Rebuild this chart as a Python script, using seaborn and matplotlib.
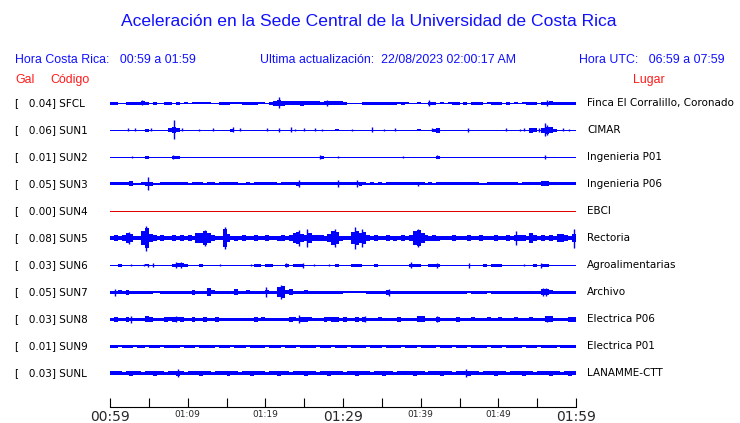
"""
plot.py

Acceleration traces for the UCR central campus stations (one hour window).
"""

import matplotlib
matplotlib.use("Agg")

import matplotlib.pyplot as plt
import numpy as np
import seaborn as sns


# ==========================================================
# Data
# ==========================================================

CODES = ["SFCL", "SUN1", "SUN2", "SUN3", "SUN4", "SUN5",
         "SUN6", "SUN7", "SUN8", "SUN9", "SUNL"]

PLACES = [
    "Finca El Corralillo, Coronado", "CIMAR", "Ingenieria P01",
    "Ingenieria P06", "EBCI", "Rectoria", "Agroalimentarias",
    "Archivo", "Electrica P06", "Electrica P01", "LANAMME-CTT",
]

PEAK_GAL = [0.04, 0.06, 0.01, 0.05, 0.00, 0.08, 0.03, 0.05, 0.03, 0.01, 0.03]

TRACE_COLORS = ["#0000ff"] * 4 + ["#e00000"] + ["#0000ff"] * 6

TITLE = "Aceleración en la Sede Central de la Universidad de Costa Rica"
LOCAL_RANGE = "Hora Costa Rica:   00:59 a 01:59"
UPDATED = "Ultima actualización:  22/08/2023 02:00:17 AM"
UTC_RANGE = "Hora UTC:   06:59 a 07:59"

START_MIN = 59          # 00:59 local
SPAN_MIN = 60
BIN_MIN = 0.5           # each envelope value covers 30 s

# envelope height (px) of each trace, one value per 30 s bin
SFCL = [
    3, 3, 1, 1, 3, 3, 3, 3, 4, 3, 1, 3, 1, 1, 3, 3, 1, 3, 1, 2,
    1, 2, 2, 2, 2, 2, 1, 1, 3, 3, 3, 2, 2, 2, 3, 3, 3, 3, 2, 2,
    1, 3, 5, 6, 5, 4, 4, 4, 4, 5, 4, 4, 4, 4, 3, 4, 4, 4, 4, 4,
    3, 1, 1, 1, 1, 3, 3, 3, 3, 3, 3, 3, 3, 3, 2, 3, 2, 1, 1, 2,
    1, 1, 3, 3, 1, 2, 1, 2, 3, 3, 1, 3, 1, 3, 3, 3, 1, 2, 3, 3,
    3, 1, 3, 1, 2, 1, 2, 3, 3, 3, 1, 3, 3, 4, 3, 3, 3, 3, 3, 3,
]
SUN1 = [
    1, 1, 1, 1, 1, 1, 1, 1, 1, 3, 1, 1, 1, 1, 1, 4, 6, 4, 1, 1,
    1, 1, 1, 1, 1, 1, 1, 1, 1, 1, 1, 3, 1, 1, 1, 1, 1, 1, 1, 1,
    1, 1, 1, 1, 1, 1, 1, 1, 1, 1, 1, 1, 1, 1, 1, 1, 1, 1, 2, 1,
    1, 1, 1, 1, 1, 1, 1, 1, 1, 1, 1, 1, 1, 1, 1, 1, 1, 1, 1, 2,
    1, 1, 1, 3, 5, 1, 1, 1, 1, 1, 1, 1, 1, 1, 1, 1, 1, 1, 1, 1,
    1, 1, 1, 1, 1, 1, 1, 1, 5, 4, 1, 5, 7, 6, 3, 1, 1, 1, 1, 1,
]
SUN2 = [
    1, 1, 1, 1, 1, 1, 1, 1, 1, 3, 1, 1, 1, 1, 1, 1, 3, 3, 1, 1,
    1, 1, 1, 1, 1, 1, 1, 1, 1, 1, 1, 1, 1, 1, 1, 1, 1, 1, 1, 1,
    1, 1, 1, 1, 1, 1, 1, 1, 1, 1, 1, 1, 1, 1, 3, 1, 1, 1, 1, 1,
    1, 1, 1, 1, 1, 1, 1, 1, 1, 1, 1, 1, 1, 1, 1, 1, 1, 1, 1, 1,
    1, 1, 1, 1, 3, 1, 1, 1, 1, 1, 1, 1, 1, 1, 1, 1, 1, 1, 1, 1,
    1, 1, 1, 1, 1, 1, 1, 1, 1, 1, 1, 1, 1, 1, 1, 1, 1, 1, 1, 1,
]
SUN3 = [
    3, 3, 3, 3, 3, 5, 2, 2, 3, 4, 4, 2, 2, 3, 3, 3, 3, 3, 3, 3,
    2, 3, 3, 3, 2, 3, 3, 2, 3, 3, 3, 3, 3, 2, 2, 3, 2, 3, 3, 3,
    3, 3, 3, 2, 3, 3, 3, 3, 4, 3, 3, 3, 3, 3, 3, 3, 3, 3, 3, 3,
    3, 3, 3, 3, 4, 3, 2, 3, 2, 3, 2, 3, 3, 3, 3, 3, 3, 3, 3, 3,
    3, 2, 3, 2, 3, 3, 3, 3, 3, 3, 3, 3, 3, 3, 3, 2, 2, 3, 3, 3,
    3, 3, 3, 3, 3, 2, 3, 3, 3, 3, 3, 5, 5, 3, 3, 3, 3, 3, 3, 3,
]
SUN4 = [
    1, 1, 1, 1, 1, 1, 1, 1, 1, 1, 1, 1, 1, 1, 1, 1, 1, 1, 1, 1,
    1, 1, 1, 1, 1, 1, 1, 1, 1, 1, 1, 1, 1, 1, 1, 1, 1, 1, 1, 1,
    1, 1, 1, 1, 1, 1, 1, 1, 1, 1, 1, 1, 1, 1, 1, 1, 1, 1, 1, 1,
    1, 1, 1, 1, 1, 1, 1, 1, 1, 1, 1, 1, 1, 1, 1, 1, 1, 1, 1, 1,
    1, 1, 1, 1, 1, 1, 1, 1, 1, 1, 1, 1, 1, 1, 1, 1, 1, 1, 1, 1,
    1, 1, 1, 1, 1, 1, 1, 1, 1, 1, 1, 1, 1, 1, 1, 1, 1, 1, 1, 1,
]
SUN5 = [
    4, 6, 4, 6, 10, 8, 4, 4, 14, 20, 8, 6, 4, 6, 4, 4, 6, 4, 6, 4,
    6, 4, 10, 10, 14, 10, 6, 4, 4, 18, 8, 4, 5, 4, 6, 4, 4, 6, 4, 4,
    6, 4, 4, 5, 6, 4, 6, 10, 12, 8, 6, 10, 6, 6, 6, 5, 8, 14, 12, 5,
    4, 4, 12, 14, 10, 12, 6, 4, 6, 4, 4, 6, 4, 5, 4, 6, 4, 6, 14, 16,
    10, 6, 5, 6, 5, 4, 4, 4, 6, 4, 4, 4, 6, 4, 4, 6, 4, 4, 4, 6,
    4, 4, 6, 4, 6, 6, 6, 4, 10, 6, 4, 6, 4, 6, 4, 8, 8, 6, 4, 8,
]
SUN6 = [
    1, 1, 3, 1, 1, 1, 1, 1, 1, 2, 1, 1, 1, 1, 1, 1, 3, 4, 4, 3,
    1, 1, 1, 3, 1, 1, 1, 1, 1, 1, 1, 1, 1, 1, 1, 1, 1, 3, 3, 1,
    3, 3, 1, 1, 1, 3, 1, 3, 3, 3, 1, 1, 1, 1, 1, 1, 1, 1, 3, 1,
    1, 1, 3, 3, 3, 1, 1, 1, 3, 1, 1, 1, 1, 1, 1, 1, 1, 3, 3, 3,
    1, 1, 3, 3, 3, 1, 1, 1, 1, 1, 1, 1, 1, 1, 1, 1, 3, 1, 3, 3,
    3, 1, 1, 1, 1, 1, 1, 1, 1, 3, 1, 3, 3, 1, 1, 1, 1, 1, 1, 1,
]
SUN7 = [
    3, 3, 4, 3, 5, 3, 3, 3, 3, 3, 3, 2, 2, 3, 3, 3, 3, 3, 3, 3,
    3, 5, 3, 3, 3, 8, 4, 3, 3, 3, 3, 3, 6, 3, 3, 4, 3, 3, 3, 3,
    4, 3, 3, 10, 12, 4, 6, 3, 3, 3, 4, 3, 3, 3, 3, 3, 3, 3, 3, 3,
    2, 2, 2, 2, 2, 2, 3, 3, 3, 3, 3, 5, 3, 3, 3, 3, 3, 3, 3, 3,
    3, 3, 3, 3, 3, 3, 3, 3, 3, 3, 3, 3, 2, 3, 3, 3, 3, 2, 3, 3,
    3, 3, 3, 3, 3, 3, 3, 3, 3, 3, 3, 6, 6, 4, 3, 3, 3, 3, 3, 3,
]
SUN8 = [
    3, 5, 3, 3, 5, 3, 3, 3, 3, 6, 5, 3, 3, 3, 5, 4, 5, 4, 5, 3,
    3, 5, 3, 3, 5, 3, 3, 5, 3, 3, 3, 3, 3, 3, 3, 3, 3, 5, 3, 4,
    3, 3, 3, 3, 3, 3, 5, 4, 3, 5, 5, 4, 3, 3, 3, 5, 4, 5, 5, 3,
    5, 3, 3, 5, 3, 5, 3, 3, 3, 4, 3, 3, 3, 3, 5, 3, 3, 3, 3, 6,
    6, 3, 3, 3, 5, 3, 3, 3, 3, 5, 3, 3, 3, 4, 3, 3, 3, 4, 3, 3,
    4, 3, 3, 3, 4, 3, 3, 3, 4, 3, 3, 3, 6, 6, 3, 3, 3, 3, 5, 5,
]
SUN9 = [
    3, 3, 2, 3, 3, 3, 2, 3, 3, 2, 3, 3, 3, 2, 3, 3, 3, 3, 2, 3,
    3, 3, 2, 3, 3, 3, 3, 2, 3, 3, 3, 2, 3, 3, 3, 2, 3, 3, 3, 3,
    2, 3, 3, 3, 2, 3, 3, 3, 2, 3, 3, 3, 3, 2, 3, 3, 3, 2, 3, 3,
    3, 2, 3, 3, 3, 3, 2, 3, 3, 3, 2, 3, 3, 3, 3, 2, 3, 3, 3, 2,
    3, 3, 3, 3, 2, 3, 3, 3, 2, 3, 3, 3, 2, 3, 3, 3, 3, 2, 3, 3,
    3, 2, 3, 3, 3, 3, 2, 3, 3, 3, 2, 3, 3, 3, 3, 2, 3, 3, 3, 3,
]
SUNL = [
    4, 4, 4, 3, 4, 5, 4, 4, 3, 4, 4, 5, 4, 4, 3, 4, 4, 5, 4, 3,
    4, 4, 4, 5, 4, 4, 3, 4, 4, 4, 5, 4, 4, 3, 4, 4, 5, 4, 4, 4,
    3, 4, 4, 5, 4, 4, 3, 4, 4, 4, 5, 4, 4, 3, 4, 4, 5, 4, 4, 4,
    3, 4, 4, 5, 4, 4, 4, 3, 4, 4, 5, 4, 4, 3, 4, 4, 4, 4, 5, 4,
    4, 3, 4, 4, 4, 5, 4, 4, 3, 4, 4, 4, 5, 4, 4, 3, 4, 4, 4, 5,
    4, 4, 3, 4, 4, 4, 5, 4, 4, 3, 4, 4, 4, 5, 4, 4, 3, 4, 5, 4,
]

# isolated spikes: (minute after 00:59, full height px)
SFCL_SPIKES = [(4.1, 5), (21.7, 11), (27.9, 6), (41.1, 6), (56.3, 6)]
SUN1_SPIKES = [
    (2.37, 3), (3.23, 3), (5.3, 3), (8.3, 19), (9.25, 3), (11.5, 2),
    (13.2, 3), (15.9, 5), (16.7, 3), (20.2, 3), (21.8, 4), (23.25, 5),
    (23.85, 2), (24.95, 3), (26.45, 3), (27.3, 2), (31.2, 2), (33.75, 5),
    (35.25, 2), (36.75, 3), (41.5, 3), (46.15, 4), (50.95, 3), (52.8, 2),
    (53.35, 3), (55.25, 4), (56.0, 13), (56.25, 10), (58.3, 3), (59.15, 2),
]
SUN2_SPIKES = [(2.8, 2), (8.1, 4), (27.1, 4), (29.3, 2), (37.7, 2),
               (42.1, 3), (56.0, 4)]
SUN3_SPIKES = [(4.86, 13), (24.3, 7), (29.3, 7), (31.8, 7), (39.6, 4)]
SUN4_SPIKES = []
SUN5_SPIKES = [
    (2.45, 12), (4.6, 25), (12.26, 16), (14.84, 22), (24.3, 16),
    (25.4, 18), (28.95, 18), (31.6, 22), (32.5, 18), (39.65, 18),
    (52.3, 14), (59.8, 19),
]
SUN6_SPIKES = [
    (2.7, 2), (4.43, 2), (4.86, 3), (5.5, 4), (8.5, 6), (9.16, 6),
    (14.1, 2), (18.1, 2), (22.6, 4), (24.8, 5), (26.3, 2), (28.2, 2),
    (38.7, 6), (42.15, 5), (46.2, 5), (53.3, 2), (55.5, 5),
]
SUN7_SPIKES = [(0.65, 7), (20.1, 10), (22.06, 14), (35.9, 7),
               (55.7, 8), (56.1, 8)]
SUN8_SPIKES = [(2.7, 7), (8.5, 6), (24.3, 8), (32.8, 6), (42.15, 6),
               (56.3, 6)]
SUN9_SPIKES = []
SUNL_SPIKES = [(8.8, 8), (45.8, 8)]

ENVELOPES = [SFCL, SUN1, SUN2, SUN3, SUN4, SUN5, SUN6, SUN7, SUN8, SUN9, SUNL]
SPIKES = [SFCL_SPIKES, SUN1_SPIKES, SUN2_SPIKES, SUN3_SPIKES, SUN4_SPIKES,
          SUN5_SPIKES, SUN6_SPIKES, SUN7_SPIKES, SUN8_SPIKES, SUN9_SPIKES,
          SUNL_SPIKES]


# ==========================================================
# Layout (pixel units of a 740 x 423 canvas)
# ==========================================================

W, H = 740, 423
ROW0, ROW_STEP = 103, 27
AX_LEFT, AX_RIGHT = 110, 576
AX_TOP, AX_BOTTOM = 88, 407

BLUE = "#1010ff"
RED = "#ff1a1a"
HEAD_FONT = ["Liberation Sans Narrow", "Liberation Sans", "DejaVu Sans"]
BODY_FONT = ["DejaVu Sans"]
HEAD_SIZE = 8.9


def fx(px):
    return px / W


def fy(py):
    return 1 - py / H


sns.set_theme(style="white")
plt.rcParams["font.family"] = BODY_FONT

fig = plt.figure(figsize=(W / 100, H / 100), dpi=100)
fig.patch.set_facecolor("white")

ax = fig.add_axes([
    fx(AX_LEFT), fy(AX_BOTTOM),
    (AX_RIGHT - AX_LEFT) / W, (AX_BOTTOM - AX_TOP) / H,
])
ax.set_facecolor("white")

for k, (env, spikes) in enumerate(zip(ENVELOPES, SPIKES)):
    row = ROW0 + k * ROW_STEP
    env = np.asarray(env, dtype=float)
    t = (np.arange(len(env)) + 0.5) * BIN_MIN
    color = TRACE_COLORS[k]

    ax.bar(t, env, width=BIN_MIN, bottom=row - env / 2,
           color=color, linewidth=0)

    if spikes:
        st = [s[0] for s in spikes]
        sh = np.array([s[1] for s in spikes], dtype=float)
        ax.vlines(st, row - sh / 2, row + sh / 2, color=color, linewidth=1)

    # left label and place name
    fig.text(fx(15), fy(row), f"[   {PEAK_GAL[k]:.2f}] {CODES[k]}",
             fontsize=7.5, color="black", va="center", ha="left")
    fig.text(fx(587), fy(row), PLACES[k],
             fontsize=7.5, color="black", va="center", ha="left")

ax.set_xlim(0, SPAN_MIN)
ax.set_ylim(AX_BOTTOM, AX_TOP)

# time axis
ticks = list(range(0, SPAN_MIN + 1, 5))
labels = []
for m in ticks:
    if m % 10:
        labels.append("")
        continue
    total = START_MIN + m
    labels.append(f"{total // 60:02d}:{total % 60:02d}")

ax.set_xticks(ticks)
ax.set_xticklabels(labels)
for m, lab in zip(ticks, ax.get_xticklabels()):
    lab.set_fontsize(10 if m % 30 == 0 else 6.5)
ax.tick_params(axis="x", direction="in", length=6.5, width=0.8,
               color="black", pad=2, bottom=True)
ax.set_yticks([])

sns.despine(ax=ax, left=True, top=True, right=True)
ax.spines["bottom"].set_color("black")
ax.spines["bottom"].set_linewidth(0.8)

# header
fig.text(fx(369), fy(22), TITLE, family=HEAD_FONT, fontsize=12.6,
         color=BLUE, ha="center", va="center")
fig.text(fx(15), fy(60), LOCAL_RANGE, family=HEAD_FONT, fontsize=HEAD_SIZE,
         color=BLUE, ha="left", va="center")
fig.text(fx(260), fy(60), UPDATED, family=HEAD_FONT, fontsize=HEAD_SIZE,
         color=BLUE, ha="left", va="center")
fig.text(fx(725), fy(60), UTC_RANGE, family=HEAD_FONT, fontsize=HEAD_SIZE,
         color=BLUE, ha="right", va="center")
fig.text(fx(15), fy(80), "Gal", family=HEAD_FONT, fontsize=HEAD_SIZE,
         color=RED, ha="left", va="center")
fig.text(fx(50), fy(80), "Código", family=HEAD_FONT, fontsize=HEAD_SIZE,
         color=RED, ha="left", va="center")
fig.text(fx(665), fy(80), "Lugar", family=HEAD_FONT, fontsize=HEAD_SIZE,
         color=RED, ha="right", va="center")

fig.savefig("out.png", dpi=100, facecolor="white")
